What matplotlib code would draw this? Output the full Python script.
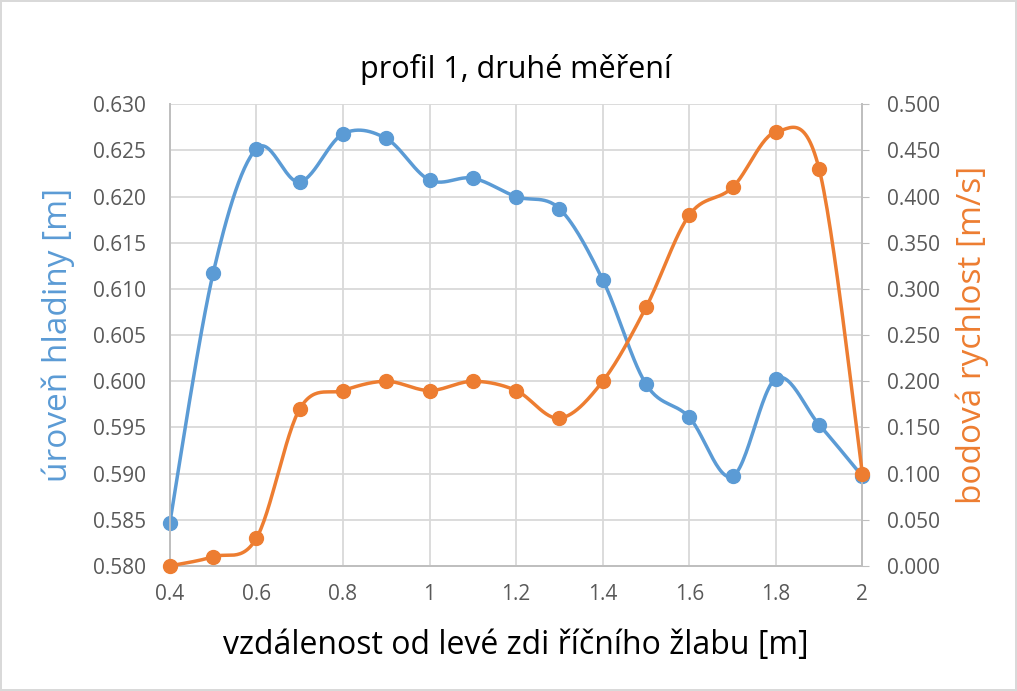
import numpy as np
import matplotlib.pyplot as plt

plt.rcParams['font.family'] = ['Open Sans', 'DejaVu Sans']

# data
x = [0.4, 0.5, 0.6, 0.7, 0.8, 0.9, 1.0, 1.1, 1.2, 1.3, 1.4, 1.5, 1.6, 1.7, 1.8, 1.9, 2.0]
hladina = [0.5847, 0.6117, 0.6252, 0.6216, 0.6268, 0.6263, 0.6218, 0.6220, 0.6200,
           0.6187, 0.6110, 0.5997, 0.5961, 0.5897, 0.6003, 0.5953, 0.5897]
rychlost = [0.000, 0.010, 0.030, 0.170, 0.190, 0.200, 0.190, 0.200, 0.190, 0.160,
            0.200, 0.280, 0.380, 0.410, 0.470, 0.430, 0.100]

blue = '#5B9BD5'
orange = '#ED7D31'
grey = '#595959'


def smooth(xs, ys, n=30):
    # catmull-rom curve through the points, similar to excel smoothed lines
    xs = np.asarray(xs, float)
    ys = np.asarray(ys, float)
    px = np.concatenate([[xs[0]], xs, [xs[-1]]])
    py = np.concatenate([[ys[0]], ys, [ys[-1]]])
    outx, outy = [], []
    t = np.linspace(0, 1, n)
    for i in range(1, len(px) - 2):
        for p, out in ((px, outx), (py, outy)):
            p0, p1, p2, p3 = p[i - 1], p[i], p[i + 1], p[i + 2]
            m1 = (p2 - p0) / 2
            m2 = (p3 - p1) / 2
            h00 = 2 * t**3 - 3 * t**2 + 1
            h10 = t**3 - 2 * t**2 + t
            h01 = -2 * t**3 + 3 * t**2
            h11 = t**3 - t**2
            out.extend(h00 * p1 + h10 * m1 + h01 * p2 + h11 * m2)
    return outx, outy


fig = plt.figure(figsize=(10.17, 6.91), dpi=100)
fig.patch.set_edgecolor('#D9D9D9')
fig.patch.set_linewidth(1.5)
ax = fig.add_axes([0.167, 0.181, 0.681, 0.668])
ax2 = ax.twinx()

sx, sy = smooth(x, hladina)
ax.plot(sx, sy, color=blue, lw=2.5, zorder=3, clip_on=False)
ax.plot(x, hladina, 'o', color=blue, ms=10, zorder=4, clip_on=False)

sx, sy = smooth(x, rychlost)
ax2.plot(sx, sy, color=orange, lw=2.5, zorder=3, clip_on=False)
ax2.plot(x, rychlost, 'o', color=orange, ms=10, zorder=4, clip_on=False)

ax.set_xlim(0.4, 2.0)
ax.set_ylim(0.580, 0.630)
ax2.set_ylim(0.0, 0.5)
ax.set_xticks(np.arange(0.4, 2.01, 0.2))
ax.set_xticklabels(['0.4', '0.6', '0.8', '1', '1.2', '1.4', '1.6', '1.8', '2'])
ax.set_yticks(np.arange(0.580, 0.6301, 0.005))
ax.set_yticklabels(['%.3f' % v for v in np.arange(0.580, 0.6301, 0.005)])
ax2.set_yticks(np.arange(0, 0.501, 0.05))
ax2.set_yticklabels(['%.3f' % v for v in np.arange(0, 0.501, 0.05)])

ax.grid(True, color='#D9D9D9', lw=1.3)
ax.set_axisbelow(True)
for s in ['top']:
    ax.spines[s].set_visible(False)
    ax2.spines[s].set_visible(False)
for a in (ax, ax2):
    for s in ['left', 'right', 'bottom']:
        a.spines[s].set_color('#BFBFBF')
        a.spines[s].set_linewidth(1.3)
ax.tick_params(axis='y', length=0, labelsize=15, labelcolor=grey, pad=17)
ax.tick_params(axis='x', length=0, labelsize=15, labelcolor=grey, pad=13)
ax2.tick_params(axis='y', length=5, color='#BFBFBF', labelsize=15, labelcolor=grey, pad=13)

ax.set_title('profil 1, druhé měření', fontsize=22, pad=19, color='black')
ax.set_xlabel('vzdálenost od levé zdi říčního žlabu [m]', fontsize=23, labelpad=17)
ax.set_ylabel('úroveň hladiny [m]', fontsize=24, color=blue, labelpad=13)
ax2.set_ylabel('bodová rychlost [m/s]', fontsize=24, color=orange, labelpad=11)

fig.savefig('out.png', dpi=100, edgecolor=fig.get_edgecolor())
